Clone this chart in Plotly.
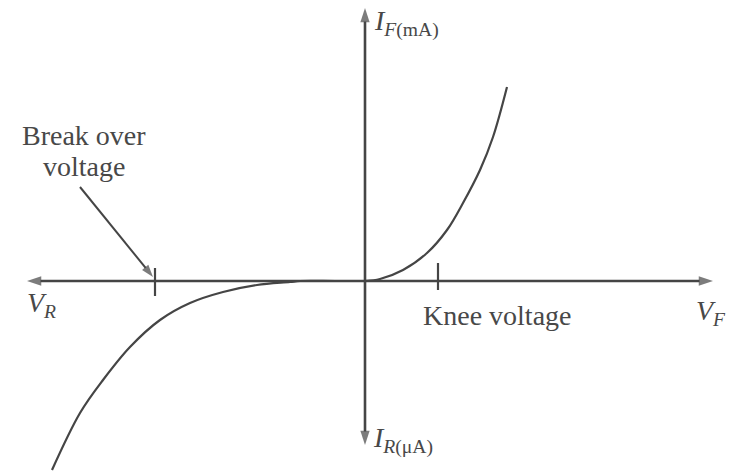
import plotly.graph_objects as go

# Diode I-V characteristic (schematic units: 1 unit = 10 px on the sketch)
fwd_v = [0.0, 1.5, 3.8, 6.2, 8.2, 9.8, 11.5, 12.8, 14.2]
fwd_i = [0.0, 0.2, 1.1, 2.8, 5.1, 7.8, 11.1, 14.4, 19.4]

rev_v = [0.0, -3.0, -6.5, -7.5, -10.8, -14.2, -17.5, -20.5, -23.5, -26.2, -28.5, -31.3]
rev_i = [0.0, 0.0, 0.0, -0.1, -0.4, -1.1, -2.2, -3.9, -6.6, -9.9, -13.2, -18.9]

knee_v = 7.3
breakover_v = -21.0

axis_ends = {"x_left": -33.8, "x_right": 34.8, "y_top": 27.3, "y_bottom": -16.4}

LINE = "#454545"
TEXT = "#484848"
SERIF = "Liberation Serif"

fig = go.Figure()

fig.add_trace(go.Scatter(x=fwd_v, y=fwd_i, mode="lines", line=dict(color=LINE, width=2.2, shape="spline"),
                         hoverinfo="skip", showlegend=False))
fig.add_trace(go.Scatter(x=rev_v, y=rev_i, mode="lines", line=dict(color=LINE, width=2.2, shape="spline"),
                         hoverinfo="skip", showlegend=False))

# Tick marks at knee and break-over voltages
fig.add_trace(go.Scatter(x=[knee_v, knee_v], y=[1.8, -0.9], mode="lines", line=dict(color=LINE, width=2.2),
                         hoverinfo="skip", showlegend=False))
fig.add_trace(go.Scatter(x=[breakover_v, breakover_v], y=[1.3, -1.5], mode="lines", line=dict(color=LINE, width=2.2),
                         hoverinfo="skip", showlegend=False))


def arrow(x0, y0, x1, y1, width=2.6, head=15):
    # shaft plus an arrowhead marker oriented along the segment
    fig.add_trace(go.Scatter(
        x=[x0, x1], y=[y0, y1], mode="lines+markers",
        line=dict(color=LINE, width=width),
        marker=dict(symbol="arrow", size=[0, head], angleref="previous", color=LINE, line=dict(width=0)),
        hoverinfo="skip", showlegend=False, cliponaxis=False))


# Axes with arrowheads at both ends
arrow(0, 0, axis_ends["x_right"], 0)
arrow(0, 0, axis_ends["x_left"], 0)
arrow(0, 0, 0, axis_ends["y_top"])
arrow(0, 0, 0, axis_ends["y_bottom"])

# Pointer to break-over voltage
arrow(-28.5, 9.4, breakover_v - 0.2, 0.4, width=2.0, head=13)

annotations = []


def label(x, y, text, size=28, align="center"):
    annotations.append(dict(x=x, y=y, xref="x", yref="y", text=text, showarrow=False,
                            font=dict(family=SERIF, size=size, color=TEXT), align=align,
                            xanchor="center", yanchor="middle"))


label(-28.1, 14.6, "Break over")
label(-28.1, 11.5, "voltage")
label(13.2, -3.4, "Knee voltage")
label(-32.4, -2.3, "<i>V<sub>R</sub></i>", size=28)
label(34.6, -3.1, "<i>V<sub>F</sub></i>", size=28)
label(4.1, 25.8, "<i>I</i><sub><i>F</i>(mA)</sub>", size=28)
label(3.8, -15.9, "<i>I</i><sub><i>R</i>(μA)</sub>", size=28)

fig.update_layout(
    width=733, height=474,
    margin=dict(l=0, r=0, t=0, b=0),
    paper_bgcolor="white", plot_bgcolor="white",
    font=dict(family=SERIF),
    xaxis=dict(range=[-36.5, 36.8], visible=False, fixedrange=True),
    yaxis=dict(range=[-19.3, 28.1], visible=False, fixedrange=True),
    annotations=annotations,
    showlegend=False,
)

fig.write_html("out.html")
